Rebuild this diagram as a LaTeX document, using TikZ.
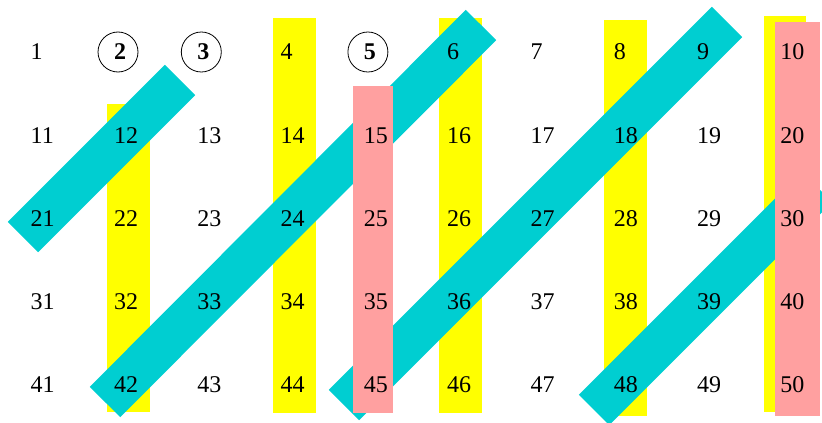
\documentclass[tikz,border=0pt]{standalone}
\usepackage{fontspec}
\setmainfont{Liberation Serif}
\usepackage{tikz}
\usetikzlibrary{positioning, calc}

\definecolor{barcyan}{RGB}{0,206,209}
\definecolor{barpink}{RGB}{255,160,160}
\definecolor{baryellow}{RGB}{255,255,0}

\tikzset{
  num/.style={anchor=west, inner sep=0pt, font=\fontsize{24}{28}\selectfont},
  ring/.style={circle, draw, line width=0.8pt, minimum size=40pt, inner sep=0pt},
  yellowbar/.style={fill=baryellow, draw=none},
  pinkbar/.style={fill=barpink, draw=none},
  cyanbar/.style={draw=barcyan, line width=43pt, line cap=butt}
}

\begin{document}
\begin{tikzpicture}[x=1pt, y=-1pt, line join=round]
\useasboundingbox (0,0) rectangle (822,423);

% --- Colonne gialle (multipli di 2) ---
\fill[yellowbar] (107,104) rectangle (150,412);
\fill[yellowbar] (273,18) rectangle (316,413);
\fill[yellowbar] (439,18) rectangle (482,413);
\fill[yellowbar] (604,20) rectangle (647,416);
\fill[yellowbar] (764,16) rectangle (806,412);

% --- Diagonali azzurre (multipli di 3) ---
\draw[cyanbar] (23,237) -- (180,80);
\draw[cyanbar] (105,402) -- (481,25);
\draw[cyanbar] (344,405) -- (727,22);
\draw[cyanbar] (594,410) -- (817,187);

% --- Colonne rosa (multipli di 5) ---
\fill[pinkbar] (353,86) rectangle (393,413);
\fill[pinkbar] (775,22) rectangle (820,416);

% --- Numeri da 1 a 50 ---
\foreach \r in {0,...,4}
  \foreach \c in {1,...,10}{
    \pgfmathtruncatemacro{\k}{10*\r+\c}
    \node[num] (n\k) at ({30.5+83.3*(\c-1)},{52+83.2*\r})
      {\ifcase\k\or 1\or\textbf{2}\or\textbf{3}\or 4\or\textbf{5}\else\k\fi};
  }

% --- Primi cerchiati ---
\node[ring] (c2) at ([xshift=-2pt]n2.center) {};
\node[ring] (c3) at ([xshift=-2pt]n3.center) {};
\node[ring] (c5) at ([xshift=-2pt]n5.center) {};
\end{tikzpicture}
\end{document}
